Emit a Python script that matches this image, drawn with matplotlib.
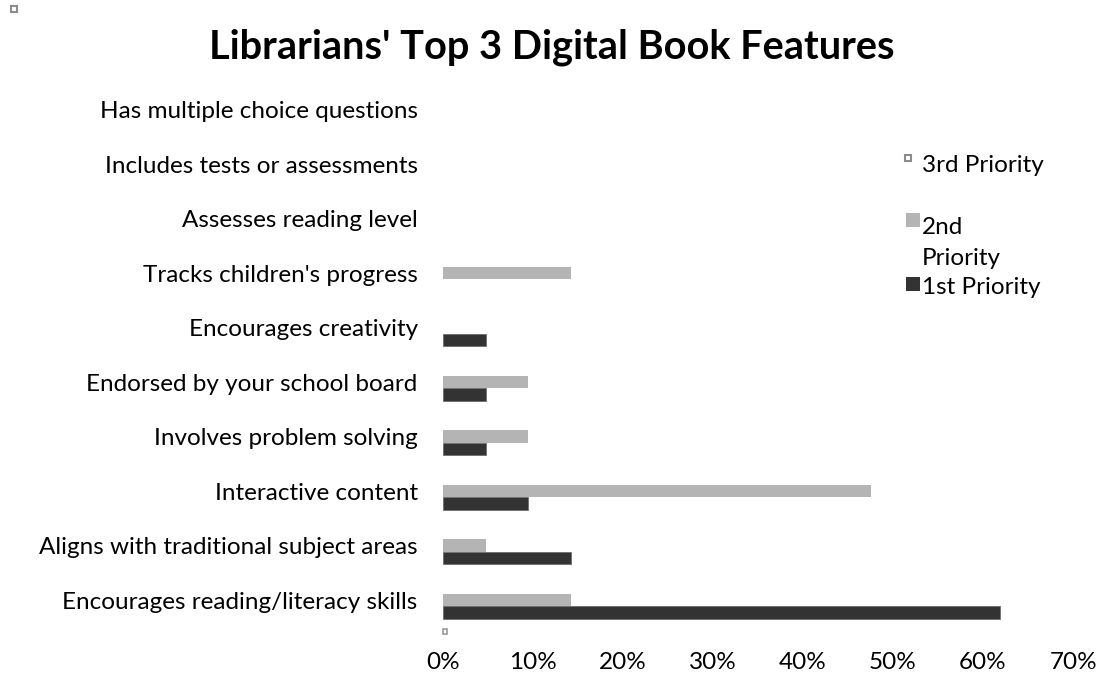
import numpy as np
import matplotlib.pyplot as plt
from matplotlib.patches import Rectangle

plt.rcParams['font.family'] = ['Lato', 'DejaVu Sans']

TITLE = "Librarians' Top 3 Digital Book Features"

categories = [
    "Encourages reading/literacy skills",
    "Aligns with traditional subject areas",
    "Interactive content",
    "Involves problem solving",
    "Endorsed by your school board",
    "Encourages creativity",
    "Tracks children's progress",
    "Assesses reading level",
    "Includes tests or assessments",
    "Has multiple choice questions",
]

# shares of librarians (fractions)
first_priority = [0.619, 0.143, 0.095, 0.048, 0.048, 0.048, 0.0, 0.0, 0.0, 0.0]
second_priority = [0.143, 0.048, 0.476, 0.095, 0.095, 0.0, 0.143, 0.0, 0.0, 0.0]
third_priority = [0.0, 0.0, 0.0, 0.0, 0.0, 0.0, 0.0, 0.0, 0.0, 0.0]

series_names = ["3rd Priority", "2nd Priority", "1st Priority"]
x_ticks = [0, 0.1, 0.2, 0.3, 0.4, 0.5, 0.6, 0.7]

FS = 17.5

fig = plt.figure(figsize=(11.04, 6.77), dpi=100)
ax = fig.add_axes([0.401, 0.0694, 0.571, 0.817])

y = np.arange(len(categories))
h = 0.228
ax.barh(y + h, third_priority, height=h, color="white", linewidth=0)
ax.barh(y, second_priority, height=h, color="#b4b4b4", linewidth=0)
ax.barh(y - h, first_priority, height=h, color="#333333", edgecolor="#6e6e6e",
        linewidth=[0.6 if v > 0 else 0 for v in first_priority])

ax.set_xlim(0, 0.7)
ax.set_ylim(-0.55, 9.6)
ax.set_yticks(y)
ax.set_yticklabels(categories, fontsize=FS)
ax.set_xticks(x_ticks)
ax.set_xticklabels([f"{int(round(t * 100))}%" for t in x_ticks], fontsize=FS)
ax.tick_params(axis="y", length=0, pad=18)
ax.tick_params(axis="x", length=0, pad=16)
for s in ax.spines.values():
    s.set_visible(False)

fig.text(0.5, 0.93, TITLE, ha="center", va="center", fontsize=28.6, fontweight="bold")

# legend drawn by hand
def fx(px):
    return px / 1104

def fy(py):
    return 1 - py / 677

fig.patches.append(Rectangle((fx(905), fy(161)), fx(6), 6 / 677, transform=fig.transFigure,
                             facecolor="white", edgecolor="#8c8c8c", linewidth=1.5))
fig.text(fx(922), fy(165), series_names[0], fontsize=FS, va="center")
fig.patches.append(Rectangle((fx(906), fy(227)), fx(14), 14 / 677, transform=fig.transFigure,
                             facecolor="#b4b4b4", edgecolor="none"))
fig.text(fx(922), fy(243), "2nd\nPriority", fontsize=FS, va="center", linespacing=1.6)
fig.patches.append(Rectangle((fx(906), fy(291)), fx(14), 14 / 677, transform=fig.transFigure,
                             facecolor="#333333", edgecolor="none"))
fig.text(fx(922), fy(288), series_names[2], fontsize=FS, va="center")

# small stray markers seen in the original
fig.patches.append(Rectangle((fx(11), fy(12)), fx(6), 6 / 677, transform=fig.transFigure,
                             facecolor="white", edgecolor="#8c8c8c", linewidth=1.5))
fig.patches.append(Rectangle((fx(443), fy(634)), fx(4), 5 / 677, transform=fig.transFigure,
                             facecolor="white", edgecolor="#9a9a9a", linewidth=1.2))

fig.savefig("out.png", dpi=100)
